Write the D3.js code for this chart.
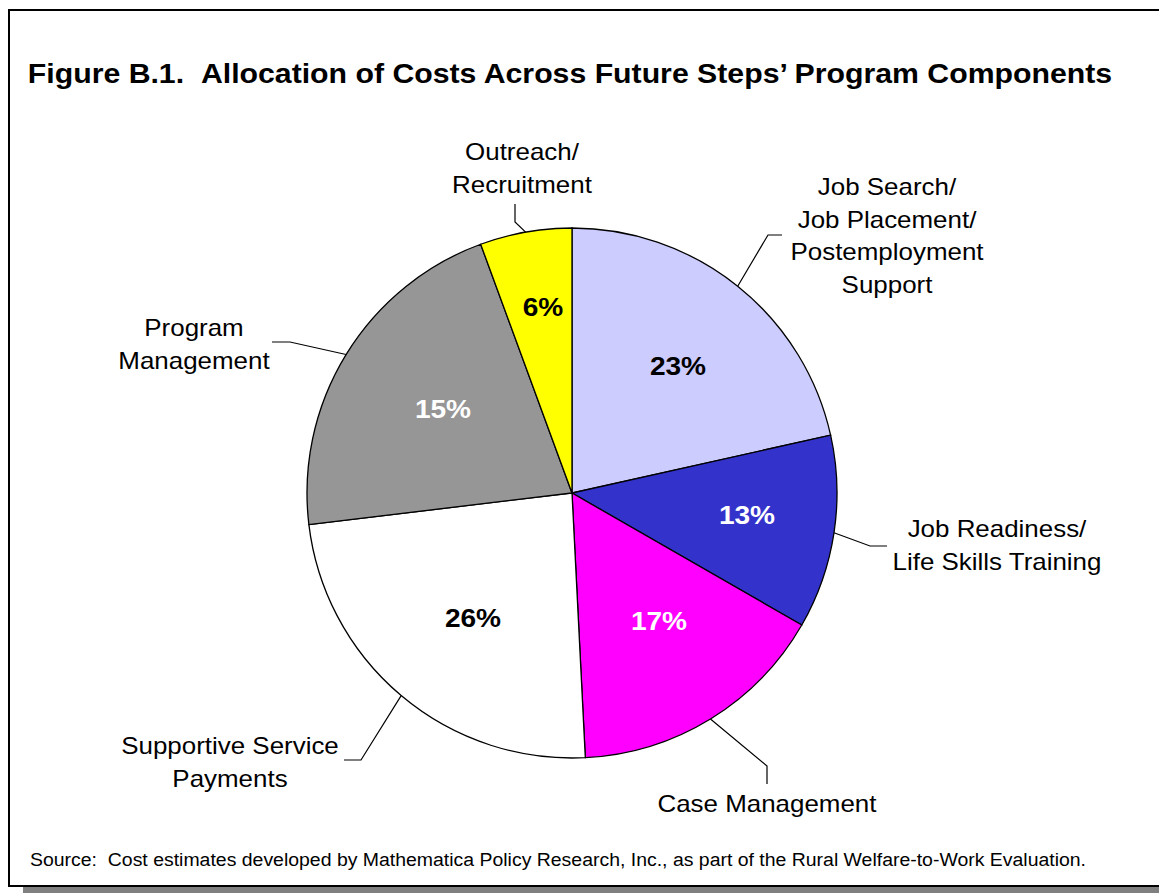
<!DOCTYPE html>
<html lang="en">
<head>
    <meta charset="UTF-8">
    <style>
        body { margin: 0; background: #fff; }
        svg { display: block; font-family: Arial, "Liberation Sans", sans-serif; }
        .slices path { stroke: #000; stroke-width: 1.3px; }
        .leaders path { fill: none; stroke: #000; stroke-width: 1.2px; }
    </style>
    <title>Figure B.1</title>
</head>
<body>
<script src="https://d3js.org/d3.v7.min.js" charset="utf-8"></script>
<script>
    // slice data, clockwise from 12 o'clock
    var categories = ['Job Search/|Job Placement/|Postemployment|Support',
        'Job Readiness/|Life Skills Training',
        'Case Management',
        'Supportive Service|Payments',
        'Program|Management',
        'Outreach/|Recruitment'];
    // slice sizes as drawn (share of the circle, %)
    var shares = [21.5, 11.8, 15.9, 23.9, 21.3, 5.6];
    // percentages printed on the slices
    var pctLabels = ['23%', '13%', '17%', '26%', '15%', '6%'];
    var colors = ['#ccccff', '#3333cc', '#ff00ff', '#ffffff', '#969696', '#ffff00'];
    var pctColors = ['#000', '#fff', '#fff', '#000', '#fff', '#000'];

    var width = 1159, height = 893;
    var cx = 572, cy = 493, radius = 265;
    var stretch = 1.08; // the original type is a little wider than Arial

    // label layout: text anchor point (x, first baseline), leader elbow and end
    var labelPos = [
        {x: 887, y: 195, elbow: [768, 235], end: [782, 235]},
        {x: 997, y: 537, elbow: [870, 546], end: [887, 546]},
        {x: 767, y: 812, elbow: [767, 766], end: [767, 784]},
        {x: 230, y: 754, elbow: [361, 760], end: [344, 760]},
        {x: 194, y: 336, elbow: [290, 342], end: [272, 342]},
        {x: 522, y: 160, elbow: [515, 222], end: [515, 204]}
    ];
    var pctPos = [[678, 366], [747, 515], [659, 621], [473, 618], [443, 409], [543, 307]];

    var svg = d3.select('body').append('svg').attr('width', width).attr('height', height);

    // frame with drop shadow
    svg.append('rect').attr('x', 23).attr('y', 24).attr('width', width).attr('height', height)
        .attr('fill', '#808080');
    svg.append('rect').attr('x', 9).attr('y', 10).attr('width', width).attr('height', 876)
        .attr('fill', '#fff').attr('stroke', '#000').attr('stroke-width', 2);

    svg.append('text').attr('class', 'stretch')
        .attr('x', 570).attr('y', 83)
        .attr('text-anchor', 'middle')
        .style('font-size', '28px').style('font-weight', 'bold')
        .text('Figure B.1.\u00a0\u00a0Allocation of Costs Across Future Steps\u2019 Program Components');

    var pie = d3.pie().sort(null).value(function (d) { return d; });
    var arcs = pie(shares);
    var arc = d3.arc().innerRadius(0).outerRadius(radius);

    var g = svg.append('g').attr('transform', 'translate(' + cx + ',' + cy + ')');

    g.append('g').attr('class', 'slices')
        .selectAll('path')
        .data(arcs)
        .enter()
        .append('path')
        .attr('d', arc)
        .attr('fill', function (d, i) { return colors[i]; });

    // leader lines from the middle of each slice's rim
    svg.append('g').attr('class', 'leaders')
        .selectAll('path')
        .data(arcs)
        .enter()
        .append('path')
        .attr('d', function (d, i) {
            var a = (d.startAngle + d.endAngle) / 2;
            var p0 = [cx + radius * Math.sin(a), cy - radius * Math.cos(a)];
            return d3.line()([p0, labelPos[i].elbow, labelPos[i].end]);
        });

    svg.append('g')
        .selectAll('text')
        .data(pctLabels)
        .enter()
        .append('text').attr('class', 'stretch')
        .attr('x', function (d, i) { return pctPos[i][0]; })
        .attr('y', function (d, i) { return pctPos[i][1]; })
        .attr('dy', '0.35em')
        .attr('text-anchor', 'middle')
        .attr('fill', function (d, i) { return pctColors[i]; })
        .style('font-size', '26px').style('font-weight', 'bold')
        .text(function (d) { return d; });

    var labelG = svg.append('g');
    categories.forEach(function (d, i) {
        d.split('|').forEach(function (line, j) {
            labelG.append('text').attr('class', 'stretch')
                .attr('x', labelPos[i].x)
                .attr('y', labelPos[i].y + j * 32.5)
                .attr('text-anchor', 'middle')
                .style('font-size', '24px')
                .text(line);
        });
    });

    svg.append('text').attr('class', 'stretch')
        .attr('x', 30).attr('y', 866)
        .style('font-size', '18px')
        .text('Source:\u00a0\u00a0Cost estimates developed by Mathematica Policy Research, Inc., as part of the Rural Welfare-to-Work Evaluation.');

    svg.selectAll('text.stretch').each(function () {
        var w = this.getComputedTextLength();
        d3.select(this).attr('textLength', w * stretch).attr('lengthAdjust', 'spacingAndGlyphs');
    });
</script>
</body>
</html>
